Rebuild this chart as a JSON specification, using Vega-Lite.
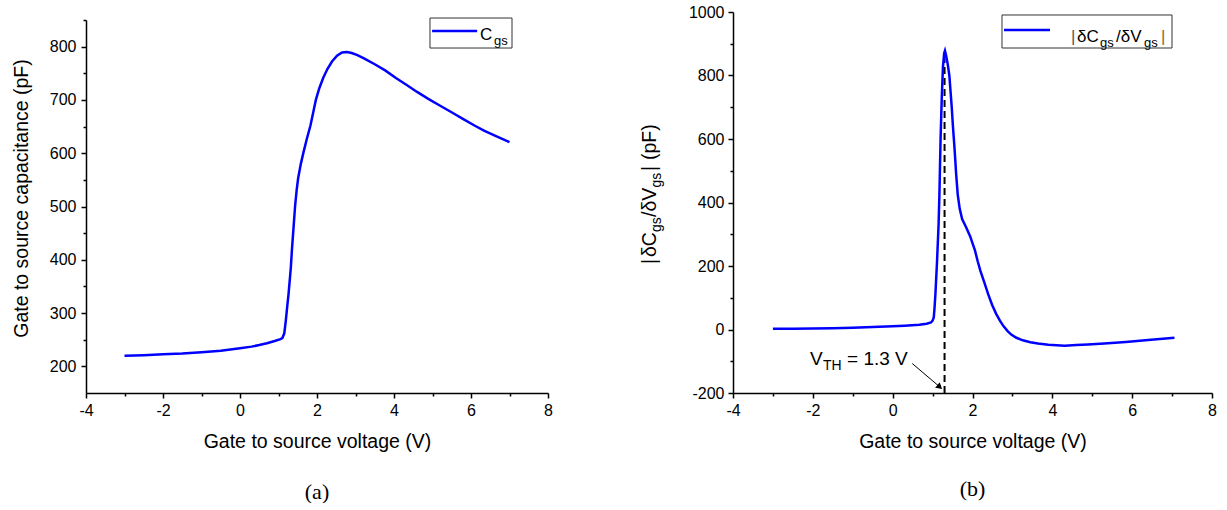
{
  "$schema": "https://vega.github.io/schema/vega-lite/v6.json",
  "background": "white",
  "padding": {"left": 11, "top": 4, "right": 0, "bottom": 0},
  "bounds": "flush",
  "spacing": 185,
  "config": {
    "view": {"stroke": null},
    "axis": {
      "labelFont": "Liberation Sans", "labelFontSize": 16, "labelColor": "black",
      "titleFont": "Liberation Sans", "titleFontSize": 19.5, "titleFontWeight": "normal", "titleColor": "black",
      "domainColor": "black", "tickColor": "black", "domainWidth": 1.5, "tickWidth": 1.5,
      "grid": false, "tickSize": 5, "labelOverlap": false, "labelFlush": false
    },
    "text": {"font": "Liberation Sans", "color": "black"}
  },
  "datasets": {
    "cgs": [
      {"V": -3.0, "C": 220}, {"V": -2.5, "C": 221}, {"V": -2.0, "C": 222.5}, {"V": -1.5, "C": 224},
      {"V": -1.0, "C": 226.5}, {"V": -0.5, "C": 229.5}, {"V": 0.0, "C": 234}, {"V": 0.3, "C": 237},
      {"V": 0.5, "C": 240}, {"V": 0.7, "C": 243.5}, {"V": 0.9, "C": 247.5}, {"V": 1.05, "C": 251},
      {"V": 1.1, "C": 253}, {"V": 1.15, "C": 262}, {"V": 1.19, "C": 286}, {"V": 1.23, "C": 315},
      {"V": 1.26, "C": 335}, {"V": 1.29, "C": 360}, {"V": 1.32, "C": 385}, {"V": 1.35, "C": 420},
      {"V": 1.39, "C": 460}, {"V": 1.43, "C": 500}, {"V": 1.47, "C": 530}, {"V": 1.51, "C": 553},
      {"V": 1.58, "C": 580}, {"V": 1.65, "C": 602}, {"V": 1.74, "C": 628}, {"V": 1.83, "C": 652},
      {"V": 1.9, "C": 676}, {"V": 1.97, "C": 700}, {"V": 2.06, "C": 722}, {"V": 2.16, "C": 741},
      {"V": 2.27, "C": 758}, {"V": 2.39, "C": 772}, {"V": 2.52, "C": 783}, {"V": 2.65, "C": 789},
      {"V": 2.78, "C": 790}, {"V": 2.9, "C": 788}, {"V": 3.05, "C": 784}, {"V": 3.22, "C": 778},
      {"V": 3.5, "C": 767}, {"V": 3.78, "C": 755}, {"V": 4.05, "C": 741}, {"V": 4.33, "C": 728},
      {"V": 4.6, "C": 715}, {"V": 4.89, "C": 702}, {"V": 5.2, "C": 689}, {"V": 5.54, "C": 675},
      {"V": 5.8, "C": 664}, {"V": 6.09, "C": 652}, {"V": 6.35, "C": 642}, {"V": 6.65, "C": 632},
      {"V": 7.0, "C": 621}
    ],
    "dcdv": [
      {"V": -3.0, "D": 2}, {"V": -2.5, "D": 2.5}, {"V": -2.0, "D": 3}, {"V": -1.5, "D": 4},
      {"V": -1.0, "D": 5.5}, {"V": -0.5, "D": 7.5}, {"V": 0.0, "D": 10}, {"V": 0.3, "D": 12},
      {"V": 0.67, "D": 15}, {"V": 0.85, "D": 18}, {"V": 0.96, "D": 22}, {"V": 1.0, "D": 28},
      {"V": 1.03, "D": 38}, {"V": 1.05, "D": 70}, {"V": 1.07, "D": 110}, {"V": 1.09, "D": 160},
      {"V": 1.11, "D": 210}, {"V": 1.13, "D": 270}, {"V": 1.15, "D": 330}, {"V": 1.17, "D": 420},
      {"V": 1.2, "D": 600}, {"V": 1.23, "D": 730}, {"V": 1.26, "D": 828}, {"V": 1.29, "D": 870},
      {"V": 1.31, "D": 878}, {"V": 1.34, "D": 862}, {"V": 1.38, "D": 835}, {"V": 1.42, "D": 800},
      {"V": 1.45, "D": 750}, {"V": 1.48, "D": 700}, {"V": 1.51, "D": 640}, {"V": 1.55, "D": 570},
      {"V": 1.59, "D": 490}, {"V": 1.63, "D": 425}, {"V": 1.68, "D": 380}, {"V": 1.74, "D": 348},
      {"V": 1.84, "D": 322}, {"V": 1.94, "D": 294}, {"V": 2.01, "D": 268}, {"V": 2.06, "D": 250},
      {"V": 2.13, "D": 215}, {"V": 2.2, "D": 184}, {"V": 2.3, "D": 147}, {"V": 2.39, "D": 112},
      {"V": 2.49, "D": 78}, {"V": 2.59, "D": 50}, {"V": 2.69, "D": 27}, {"V": 2.78, "D": 10},
      {"V": 2.88, "D": -5}, {"V": 2.97, "D": -16}, {"V": 3.1, "D": -26}, {"V": 3.26, "D": -34},
      {"V": 3.45, "D": -40}, {"V": 3.64, "D": -44}, {"V": 3.9, "D": -48}, {"V": 4.31, "D": -51},
      {"V": 4.6, "D": -49}, {"V": 4.89, "D": -47}, {"V": 5.3, "D": -44}, {"V": 5.84, "D": -39},
      {"V": 6.4, "D": -33}, {"V": 7.06, "D": -26}
    ]
  },
  "hconcat": [
    {
      "width": 462,
      "height": 381,
      "title": {"text": "(a)", "orient": "bottom", "offset": 31, "font": "Liberation Serif", "fontSize": 22, "fontWeight": "normal", "color": "black", "anchor": "middle"},
      "resolve": {"axis": {"x": "independent", "y": "independent"}},
      "layer": [
        {
          "data": {"name": "cgs"},
          "mark": {"type": "line", "color": "#0000FF", "strokeWidth": 2.5},
          "encoding": {
            "x": {"field": "V", "type": "quantitative",
                  "scale": {"domain": [-4, 8], "nice": false, "zero": false},
                  "axis": {"orient": "bottom", "values": [-4, -2, 0, 2, 4, 6, 8], "title": "Gate to source voltage (V)", "titlePadding": 14, "labelPadding": 4, "labelExpr": "'' + datum.value"}},
            "y": {"field": "C", "type": "quantitative",
                  "scale": {"domain": [150, 850], "range": [381, 8], "nice": false, "zero": false},
                  "axis": {"orient": "left", "values": [200, 300, 400, 500, 600, 700, 800], "title": "Gate to source capacitance (pF)", "titlePadding": 18, "labelPadding": 5, "titleY": 186, "labelExpr": "'' + datum.value"}}
          }
        },
        {
          "data": {"values": [{}]},
          "mark": {"type": "point", "opacity": 0},
          "encoding": {
            "x": {"datum": 0, "type": "quantitative", "scale": {"domain": [-4, 8], "nice": false, "zero": false},
                  "axis": {"orient": "bottom", "values": [-3, -1, 1, 3, 5, 7], "labels": false, "domain": false, "tickSize": 3, "title": null}},
            "y": {"datum": 500, "type": "quantitative", "scale": {"domain": [150, 850], "range": [381, 8], "nice": false, "zero": false},
                  "axis": {"orient": "left", "values": [250, 350, 450, 550, 650, 750, 850], "labels": false, "domain": false, "tickSize": 3, "title": null}}
          }
        },
        {
          "data": {"values": [{}]},
          "mark": {"type": "rect", "fill": "white", "stroke": "#333333", "strokeWidth": 1},
          "encoding": {
            "x": {"datum": 4.935, "type": "quantitative", "scale": {"domain": [-4, 8], "nice": false, "zero": false}, "axis": null},
            "x2": {"datum": 7.065},
            "y": {"datum": 853.7, "type": "quantitative", "scale": {"domain": [150, 850], "range": [381, 8], "nice": false, "zero": false}, "axis": null},
            "y2": {"datum": 797.4}
          }
        },
        {
          "data": {"values": [{}]},
          "mark": {"type": "rule", "color": "#0000FF", "strokeWidth": 2.5},
          "encoding": {
            "x": {"datum": 4.99, "type": "quantitative", "scale": {"domain": [-4, 8], "nice": false, "zero": false}, "axis": null},
            "x2": {"datum": 6.16},
            "y": {"datum": 829.4, "type": "quantitative", "scale": {"domain": [150, 850], "range": [381, 8], "nice": false, "zero": false}, "axis": null}
          }
        },
        {
          "data": {"values": [{}]},
          "mark": {"type": "text", "text": "C", "fontSize": 17, "align": "left", "baseline": "alphabetic"},
          "encoding": {
            "x": {"datum": 6.234, "type": "quantitative", "scale": {"domain": [-4, 8], "nice": false, "zero": false}, "axis": null},
            "y": {"datum": 812.5, "type": "quantitative", "scale": {"domain": [150, 850], "range": [381, 8], "nice": false, "zero": false}, "axis": null}
          }
        },
        {
          "data": {"values": [{}]},
          "mark": {"type": "text", "text": "gs", "fontSize": 13, "align": "left", "baseline": "alphabetic"},
          "encoding": {
            "x": {"datum": 6.597, "type": "quantitative", "scale": {"domain": [-4, 8], "nice": false, "zero": false}, "axis": null},
            "y": {"datum": 804, "type": "quantitative", "scale": {"domain": [150, 850], "range": [381, 8], "nice": false, "zero": false}, "axis": null}
          }
        }
      ]
    },
    {
      "width": 479,
      "height": 381,
      "title": {"text": "(b)", "orient": "bottom", "offset": 28, "font": "Liberation Serif", "fontSize": 22, "fontWeight": "normal", "color": "black", "anchor": "middle"},
      "resolve": {"axis": {"x": "independent", "y": "independent"}},
      "layer": [
        {
          "data": {"values": [{}]},
          "mark": {"type": "rule", "color": "black", "strokeWidth": 2, "strokeDash": [7, 4]},
          "encoding": {
            "x": {"datum": 1.3, "type": "quantitative", "scale": {"domain": [-4, 8], "nice": false, "zero": false}, "axis": null},
            "y": {"datum": -200, "type": "quantitative", "scale": {"domain": [-200, 1000], "nice": false, "zero": false}, "axis": null},
            "y2": {"datum": 868}
          }
        },
        {
          "data": {"name": "dcdv"},
          "mark": {"type": "line", "color": "#0000FF", "strokeWidth": 2.5},
          "encoding": {
            "x": {"field": "V", "type": "quantitative",
                  "scale": {"domain": [-4, 8], "nice": false, "zero": false},
                  "axis": {"orient": "bottom", "values": [-4, -2, 0, 2, 4, 6, 8], "title": "Gate to source voltage (V)", "titlePadding": 14, "labelPadding": 4, "labelExpr": "'' + datum.value"}},
            "y": {"field": "D", "type": "quantitative",
                  "scale": {"domain": [-200, 1000], "nice": false, "zero": false},
                  "axis": {"orient": "left", "values": [-200, 0, 200, 400, 600, 800, 1000], "title": null, "labelPadding": 4, "labelExpr": "'' + datum.value"}}
          }
        },
        {
          "data": {"values": [{}]},
          "mark": {"type": "point", "opacity": 0},
          "encoding": {
            "x": {"datum": 0, "type": "quantitative", "scale": {"domain": [-4, 8], "nice": false, "zero": false},
                  "axis": {"orient": "bottom", "values": [-3, -1, 1, 3, 5, 7], "labels": false, "domain": false, "tickSize": 3, "title": null}},
            "y": {"datum": 500, "type": "quantitative", "scale": {"domain": [-200, 1000], "nice": false, "zero": false},
                  "axis": {"orient": "left", "values": [-100, 100, 300, 500, 700, 900], "labels": false, "domain": false, "tickSize": 3, "title": null}}
          }
        },
        {
          "data": {"values": [{}]},
          "mark": {"type": "rule", "color": "black", "strokeWidth": 1},
          "encoding": {
            "x": {"datum": 0.49, "type": "quantitative", "scale": {"domain": [-4, 8], "nice": false, "zero": false}, "axis": null},
            "x2": {"datum": 1.2},
            "y": {"datum": -107, "type": "quantitative", "scale": {"domain": [-200, 1000], "nice": false, "zero": false}, "axis": null},
            "y2": {"datum": -183}
          }
        },
        {
          "data": {"values": [{}]},
          "mark": {"type": "point", "shape": "triangle-right", "angle": 40, "size": 50, "filled": true, "color": "black", "opacity": 1},
          "encoding": {
            "x": {"datum": 1.18, "type": "quantitative", "scale": {"domain": [-4, 8], "nice": false, "zero": false}, "axis": null},
            "y": {"datum": -181, "type": "quantitative", "scale": {"domain": [-200, 1000], "nice": false, "zero": false}, "axis": null}
          }
        },
        {
          "data": {"values": [{}]},
          "mark": {"type": "text", "text": "V", "fontSize": 19, "align": "left", "baseline": "alphabetic"},
          "encoding": {
            "x": {"datum": -2.071, "type": "quantitative", "scale": {"domain": [-4, 8], "nice": false, "zero": false}, "axis": null},
            "y": {"datum": -111.8, "type": "quantitative", "scale": {"domain": [-200, 1000], "nice": false, "zero": false}, "axis": null}
          }
        },
        {
          "data": {"values": [{}]},
          "mark": {"type": "text", "text": "TH", "fontSize": 14, "align": "left", "baseline": "alphabetic"},
          "encoding": {
            "x": {"datum": -1.745, "type": "quantitative", "scale": {"domain": [-4, 8], "nice": false, "zero": false}, "axis": null},
            "y": {"datum": -127.6, "type": "quantitative", "scale": {"domain": [-200, 1000], "nice": false, "zero": false}, "axis": null}
          }
        },
        {
          "data": {"values": [{}]},
          "mark": {"type": "text", "text": "= 1.3 V", "fontSize": 19, "align": "left", "baseline": "alphabetic"},
          "encoding": {
            "x": {"datum": -1.144, "type": "quantitative", "scale": {"domain": [-4, 8], "nice": false, "zero": false}, "axis": null},
            "y": {"datum": -111.8, "type": "quantitative", "scale": {"domain": [-200, 1000], "nice": false, "zero": false}, "axis": null}
          }
        },
        {
          "data": {"values": [{}]},
          "mark": {"type": "rect", "fill": "white", "stroke": "#333333", "strokeWidth": 1},
          "encoding": {
            "x": {"datum": 2.739, "type": "quantitative", "scale": {"domain": [-4, 8], "nice": false, "zero": false}, "axis": null},
            "x2": {"datum": 6.998},
            "y": {"datum": 990.6, "type": "quantitative", "scale": {"domain": [-200, 1000], "nice": false, "zero": false}, "axis": null},
            "y2": {"datum": 886.6}
          }
        },
        {
          "data": {"values": [{}]},
          "mark": {"type": "rule", "color": "#0000FF", "strokeWidth": 2.5},
          "encoding": {
            "x": {"datum": 2.789, "type": "quantitative", "scale": {"domain": [-4, 8], "nice": false, "zero": false}, "axis": null},
            "x2": {"datum": 3.942},
            "y": {"datum": 943.3, "type": "quantitative", "scale": {"domain": [-200, 1000], "nice": false, "zero": false}, "axis": null}
          }
        },
        {
          "data": {"values": [{}]},
          "mark": {"type": "text", "text": "|", "fontSize": 17, "align": "left", "baseline": "alphabetic", "color": "#555555"},
          "encoding": {
            "x": {"datum": 4.468, "type": "quantitative", "scale": {"domain": [-4, 8], "nice": false, "zero": false}, "axis": null},
            "y": {"datum": 905.5, "type": "quantitative", "scale": {"domain": [-200, 1000], "nice": false, "zero": false}, "axis": null}
          }
        },
        {
          "data": {"values": [{}]},
          "mark": {"type": "text", "text": "δC", "fontSize": 17, "align": "left", "baseline": "alphabetic"},
          "encoding": {
            "x": {"datum": 4.618, "type": "quantitative", "scale": {"domain": [-4, 8], "nice": false, "zero": false}, "axis": null},
            "y": {"datum": 905.5, "type": "quantitative", "scale": {"domain": [-200, 1000], "nice": false, "zero": false}, "axis": null}
          }
        },
        {
          "data": {"values": [{}]},
          "mark": {"type": "text", "text": "gs", "fontSize": 13, "align": "left", "baseline": "alphabetic"},
          "encoding": {
            "x": {"datum": 5.194, "type": "quantitative", "scale": {"domain": [-4, 8], "nice": false, "zero": false}, "axis": null},
            "y": {"datum": 891.3, "type": "quantitative", "scale": {"domain": [-200, 1000], "nice": false, "zero": false}, "axis": null}
          }
        },
        {
          "data": {"values": [{}]},
          "mark": {"type": "text", "text": "/δV", "fontSize": 17, "align": "left", "baseline": "alphabetic"},
          "encoding": {
            "x": {"datum": 5.595, "type": "quantitative", "scale": {"domain": [-4, 8], "nice": false, "zero": false}, "axis": null},
            "y": {"datum": 905.5, "type": "quantitative", "scale": {"domain": [-200, 1000], "nice": false, "zero": false}, "axis": null}
          }
        },
        {
          "data": {"values": [{}]},
          "mark": {"type": "text", "text": "gs", "fontSize": 13, "align": "left", "baseline": "alphabetic"},
          "encoding": {
            "x": {"datum": 6.296, "type": "quantitative", "scale": {"domain": [-4, 8], "nice": false, "zero": false}, "axis": null},
            "y": {"datum": 891.3, "type": "quantitative", "scale": {"domain": [-200, 1000], "nice": false, "zero": false}, "axis": null}
          }
        },
        {
          "data": {"values": [{}]},
          "mark": {"type": "text", "text": "|", "fontSize": 17, "align": "left", "baseline": "alphabetic", "color": "#8a6a30"},
          "encoding": {
            "x": {"datum": 6.72, "type": "quantitative", "scale": {"domain": [-4, 8], "nice": false, "zero": false}, "axis": null},
            "y": {"datum": 905.5, "type": "quantitative", "scale": {"domain": [-200, 1000], "nice": false, "zero": false}, "axis": null}
          }
        },
        {
          "data": {"values": [{}]},
          "mark": {"type": "text", "text": "|", "fontSize": 19.5, "align": "left", "baseline": "alphabetic", "angle": 270},
          "encoding": {
            "x": {"datum": -5.929, "type": "quantitative", "scale": {"domain": [-4, 8], "nice": false, "zero": false}, "axis": null},
            "y": {"datum": 206.3, "type": "quantitative", "scale": {"domain": [-200, 1000], "nice": false, "zero": false}, "axis": null}
          }
        },
        {
          "data": {"values": [{}]},
          "mark": {"type": "text", "text": "δC", "fontSize": 19.5, "align": "left", "baseline": "alphabetic", "angle": 270},
          "encoding": {
            "x": {"datum": -5.929, "type": "quantitative", "scale": {"domain": [-4, 8], "nice": false, "zero": false}, "axis": null},
            "y": {"datum": 228.3, "type": "quantitative", "scale": {"domain": [-200, 1000], "nice": false, "zero": false}, "axis": null}
          }
        },
        {
          "data": {"values": [{}]},
          "mark": {"type": "text", "text": "gs", "fontSize": 14, "align": "left", "baseline": "alphabetic", "angle": 270},
          "encoding": {
            "x": {"datum": -5.804, "type": "quantitative", "scale": {"domain": [-4, 8], "nice": false, "zero": false}, "axis": null},
            "y": {"datum": 307.1, "type": "quantitative", "scale": {"domain": [-200, 1000], "nice": false, "zero": false}, "axis": null}
          }
        },
        {
          "data": {"values": [{}]},
          "mark": {"type": "text", "text": "/δV", "fontSize": 19.5, "align": "left", "baseline": "alphabetic", "angle": 270},
          "encoding": {
            "x": {"datum": -5.929, "type": "quantitative", "scale": {"domain": [-4, 8], "nice": false, "zero": false}, "axis": null},
            "y": {"datum": 354.3, "type": "quantitative", "scale": {"domain": [-200, 1000], "nice": false, "zero": false}, "axis": null}
          }
        },
        {
          "data": {"values": [{}]},
          "mark": {"type": "text", "text": "gs", "fontSize": 14, "align": "left", "baseline": "alphabetic", "angle": 270},
          "encoding": {
            "x": {"datum": -5.804, "type": "quantitative", "scale": {"domain": [-4, 8], "nice": false, "zero": false}, "axis": null},
            "y": {"datum": 447.2, "type": "quantitative", "scale": {"domain": [-200, 1000], "nice": false, "zero": false}, "axis": null}
          }
        },
        {
          "data": {"values": [{}]},
          "mark": {"type": "text", "text": "|", "fontSize": 19.5, "align": "left", "baseline": "alphabetic", "angle": 270},
          "encoding": {
            "x": {"datum": -5.929, "type": "quantitative", "scale": {"domain": [-4, 8], "nice": false, "zero": false}, "axis": null},
            "y": {"datum": 499.2, "type": "quantitative", "scale": {"domain": [-200, 1000], "nice": false, "zero": false}, "axis": null}
          }
        },
        {
          "data": {"values": [{}]},
          "mark": {"type": "text", "text": "(pF)", "fontSize": 19.5, "align": "left", "baseline": "alphabetic", "angle": 270},
          "encoding": {
            "x": {"datum": -5.929, "type": "quantitative", "scale": {"domain": [-4, 8], "nice": false, "zero": false}, "axis": null},
            "y": {"datum": 533.9, "type": "quantitative", "scale": {"domain": [-200, 1000], "nice": false, "zero": false}, "axis": null}
          }
        }
      ]
    }
  ]
}
